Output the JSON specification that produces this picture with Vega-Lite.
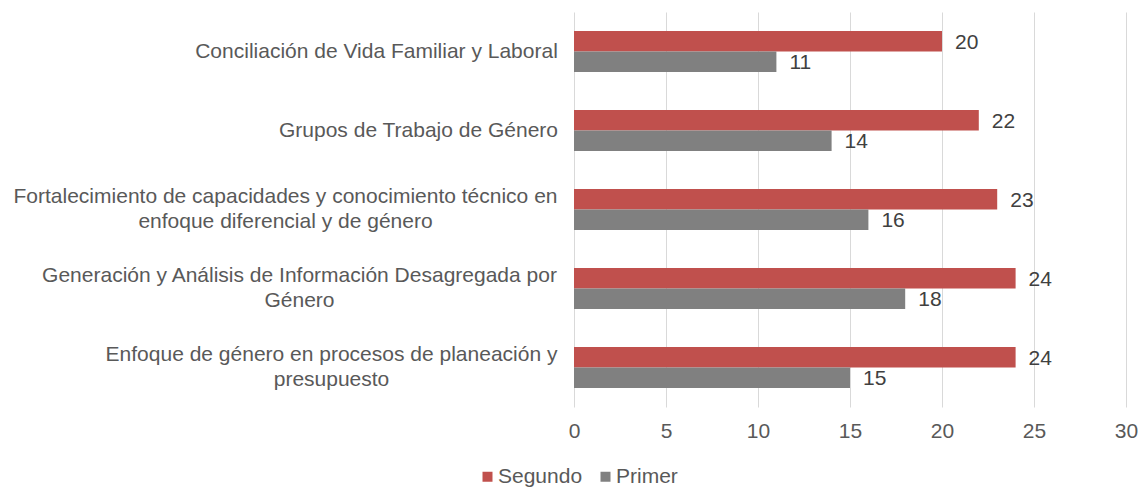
{
  "$schema": "https://vega.github.io/schema/vega-lite/v6.json",
  "width": 552,
  "height": 395,
  "autosize": {"type": "none"},
  "padding": {"left": 574, "top": 12, "right": 12, "bottom": 80},
  "config": {"view": {"stroke": null}, "font": "Liberation Sans"},
  "data": {
    "values": [
      {"categoria": "Conciliación de Vida Familiar y Laboral", "serie": "Segundo", "valor": 20},
      {"categoria": "Conciliación de Vida Familiar y Laboral", "serie": "Primer", "valor": 11},
      {"categoria": "Grupos de Trabajo de Género", "serie": "Segundo", "valor": 22},
      {"categoria": "Grupos de Trabajo de Género", "serie": "Primer", "valor": 14},
      {"categoria": "Fortalecimiento de capacidades y conocimiento técnico en|enfoque diferencial y de género", "serie": "Segundo", "valor": 23},
      {"categoria": "Fortalecimiento de capacidades y conocimiento técnico en|enfoque diferencial y de género", "serie": "Primer", "valor": 16},
      {"categoria": "Generación y Análisis de Información Desagregada por|Género", "serie": "Segundo", "valor": 24},
      {"categoria": "Generación y Análisis de Información Desagregada por|Género", "serie": "Primer", "valor": 18},
      {"categoria": "Enfoque de género en procesos de planeación y|presupuesto", "serie": "Segundo", "valor": 24},
      {"categoria": "Enfoque de género en procesos de planeación y|presupuesto", "serie": "Primer", "valor": 15}
    ]
  },
  "encoding": {
    "y": {
      "field": "categoria",
      "type": "nominal",
      "sort": null,
      "scale": {"paddingInner": 0.48, "paddingOuter": 0.24},
      "axis": {
        "title": null,
        "domain": false,
        "ticks": false,
        "grid": false,
        "labelExpr": "split(datum.label, '|')",
        "labelFontSize": 21,
        "labelColor": "#595959",
        "labelLimit": 700,
        "labelLineHeight": 25,
        "labelBaseline": "middle",
        "labelAlign": "center",
        "labelOffset": {
          "condition": {"test": "indexof(datum.value, '|') >= 0", "value": -12.5},
          "value": 0
        },
        "labelPadding": {
          "condition": [
            {"test": "indexof(datum.value, 'Conciliación') == 0", "value": 198},
            {"test": "indexof(datum.value, 'Grupos') == 0", "value": 156},
            {"test": "indexof(datum.value, 'Fortalecimiento') == 0", "value": 289},
            {"test": "indexof(datum.value, 'Generación') == 0", "value": 275}
          ],
          "value": 243
        }
      }
    },
    "yOffset": {"field": "serie", "type": "nominal", "sort": ["Segundo", "Primer"]},
    "x": {
      "field": "valor",
      "type": "quantitative",
      "scale": {"domain": [0, 30], "nice": false},
      "axis": {
        "title": null,
        "values": [0, 5, 10, 15, 20, 25, 30],
        "domain": false,
        "ticks": false,
        "labelFlush": false,
        "gridColor": "#D9D9D9",
        "gridWidth": 1,
        "labelFontSize": 21,
        "labelColor": "#595959",
        "labelPadding": 13
      }
    }
  },
  "layer": [
    {
      "mark": {"type": "bar"},
      "encoding": {
        "color": {
          "field": "serie",
          "type": "nominal",
          "sort": ["Segundo", "Primer"],
          "scale": {"domain": ["Segundo", "Primer"], "range": ["#C0504D", "#808080"]},
          "legend": {
            "title": null,
            "orient": "none",
            "direction": "horizontal",
            "legendX": -97,
            "legendY": 454,
            "symbolType": "square",
            "symbolSize": 100,
            "symbolStrokeWidth": 0,
            "labelFontSize": 21,
            "labelColor": "#595959",
            "labelOffset": 0,
            "columnPadding": 12
          }
        }
      }
    },
    {
      "mark": {"type": "text", "align": "left", "baseline": "middle", "dx": 13, "dy": 1.5, "fontSize": 21, "color": "#404040"},
      "encoding": {"text": {"field": "valor", "type": "quantitative"}}
    }
  ]
}
